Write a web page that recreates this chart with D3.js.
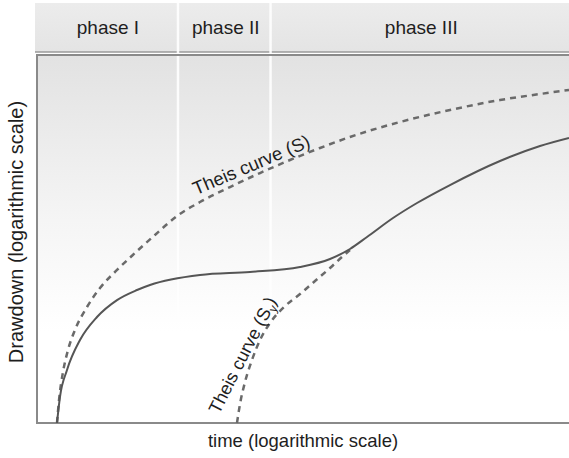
<!DOCTYPE html>
<html>
<head>
<meta charset="utf-8">
<script src="https://cdn.jsdelivr.net/npm/d3@7"></script>
<style>
  html, body { margin: 0; padding: 0; background: #fff; }
  svg { display: block; font-family: "Liberation Sans", Arial, sans-serif; }
</style>
</head>
<body>
<svg id="chart" width="569" height="458"></svg>
<script>
// Phases shown in the header band (boundaries in log-time units 0..100)
const phaseNames = ["phase I", "phase II", "phase III"];
const phaseBounds = [-0.4, 26.5, 43.9, 100];

// Observed drawdown curve (log time, log drawdown), units 0..100
const obsTime = [3.76, 4.32, 5.64, 8.08, 11.28, 15.04, 18.8, 21.24, 30.64, 40.04, 49.44, 55.08, 58.83, 62.03, 66.92, 71.43, 77.63, 87.03, 94.55, 100];
const obsDraw = [0, 7.07, 14.4, 22.55, 28.8, 33.4, 36.14, 37.5, 40.2, 41.03, 42.4, 44.57, 47.28, 50.54, 55.7, 59.78, 64.67, 71.2, 75.27, 77.45];

// Theis type curve for storativity S
const theisSTime = [3.76, 4.14, 4.89, 5.83, 7.14, 9.4, 11.84, 15.04, 18.42, 22.18, 26.32, 30.64, 36.28, 41.92, 47.56, 53.2, 58.83, 68.23, 77.63, 87.03, 94.55, 100];
const theisSDraw = [0, 6.25, 13.86, 19.84, 25.27, 31.52, 36.68, 41.58, 46.2, 51.09, 56.25, 60.05, 64.13, 67.93, 71.47, 74.73, 77.72, 81.79, 85.05, 87.77, 89.4, 90.49];

// Theis type curve for specific yield Sy
const theisSyTime = [37.59, 38.16, 39.1, 40.41, 41.92, 43.8, 46.43, 49.44, 52.26, 55.08, 57.33, 58.83];
const theisSyDraw = [0, 5.16, 11.14, 17.12, 22.55, 27.17, 31.52, 35.05, 38.59, 42.12, 45.11, 47.01];

const svg = d3.select("#chart");
const plot = { left: 37, right: 569, top: 55, bottom: 423 };

const x = d3.scaleLinear().domain([0, 100]).range([plot.left, plot.right]);
const y = d3.scaleLinear().domain([0, 100]).range([plot.bottom, plot.top]);

const defs = svg.append("defs");
const bg = defs.append("linearGradient").attr("id", "plotBg")
  .attr("x1", 0).attr("y1", 0).attr("x2", 0).attr("y2", 1);
bg.append("stop").attr("offset", "0%").attr("stop-color", "#e2e2e2");
bg.append("stop").attr("offset", "45%").attr("stop-color", "#f5f5f5");
bg.append("stop").attr("offset", "75%").attr("stop-color", "#ffffff");

const hdr = defs.append("linearGradient").attr("id", "hdrBg")
  .attr("x1", 0).attr("y1", 0).attr("x2", 0).attr("y2", 1);
hdr.append("stop").attr("offset", "0%").attr("stop-color", "#ececec");
hdr.append("stop").attr("offset", "100%").attr("stop-color", "#e4e4e4");

// Plot background
svg.append("rect")
  .attr("x", plot.left).attr("y", plot.top)
  .attr("width", plot.right - plot.left).attr("height", plot.bottom - plot.top)
  .attr("fill", "url(#plotBg)");

// Header band
const hdrTop = 3, hdrBottom = 52;
svg.append("rect")
  .attr("x", 35).attr("y", hdrTop)
  .attr("width", plot.right - 35).attr("height", hdrBottom - hdrTop)
  .attr("fill", "url(#hdrBg)");
svg.append("line")
  .attr("x1", 35).attr("x2", plot.right)
  .attr("y1", hdrBottom).attr("y2", hdrBottom)
  .attr("stroke", "#9a9a9a").attr("stroke-width", 1.5);

phaseNames.forEach((name, i) => {
  const cx = (x(phaseBounds[i]) + x(phaseBounds[i + 1])) / 2;
  svg.append("text")
    .attr("x", cx + 1.5).attr("y", 34)
    .attr("text-anchor", "middle")
    .attr("font-size", 19)
    .attr("fill", "#1e1e1e")
    .text(name);
});

// Phase dividers running through header and plot
phaseBounds.slice(1, -1).forEach(b => {
  svg.append("line")
    .attr("x1", x(b)).attr("x2", x(b))
    .attr("y1", hdrTop).attr("y2", plot.bottom)
    .attr("stroke", "#ffffff").attr("stroke-width", 2.5).attr("opacity", 0.9);
});

// Plot frame: left, top and bottom edges
svg.append("path")
  .attr("d", `M${plot.right},${plot.top}H${plot.left}V${plot.bottom}H${plot.right}`)
  .attr("fill", "none").attr("stroke", "#8a8a8a").attr("stroke-width", 2);

const line = d3.line()
  .x(d => x(d[0])).y(d => y(d[1]))
  .curve(d3.curveMonotoneX);

const zip = (a, b) => a.map((v, i) => [v, b[i]]);

// Theis curves (dashed)
svg.append("path")
  .attr("d", line(zip(theisSTime, theisSDraw)))
  .attr("fill", "none").attr("stroke", "#6a6a6a")
  .attr("stroke-width", 2.5).attr("stroke-dasharray", "6,5");

svg.append("path")
  .attr("d", line(zip(theisSyTime, theisSyDraw)))
  .attr("fill", "none").attr("stroke", "#6a6a6a")
  .attr("stroke-width", 2.5).attr("stroke-dasharray", "6,5");

// Observed drawdown (solid)
svg.append("path")
  .attr("d", line(zip(obsTime, obsDraw)))
  .attr("fill", "none").attr("stroke", "#555555")
  .attr("stroke-width", 2);

// Curve labels
svg.append("text")
  .attr("transform", `translate(${x(29.9)},${y(61.9)}) rotate(-23)`)
  .attr("font-size", 18.5).attr("fill", "#1e1e1e")
  .text("Theis curve (S)");

const syLabel = svg.append("text")
  .attr("transform", `translate(${x(34.2)},${y(2.2)}) rotate(-63)`)
  .attr("font-size", 18).attr("fill", "#1e1e1e");
syLabel.append("tspan").text("Theis curve (S");
syLabel.append("tspan").attr("font-size", 12).attr("dy", 4).text("y");
syLabel.append("tspan").attr("dy", -4).text(")");

// Axis titles
svg.append("text")
  .attr("x", 303).attr("y", 447)
  .attr("text-anchor", "middle").attr("font-size", 18.5).attr("fill", "#1e1e1e")
  .text("time (logarithmic scale)");

svg.append("text")
  .attr("transform", `translate(23,232) rotate(-90)`)
  .attr("text-anchor", "middle").attr("font-size", 20).attr("fill", "#1e1e1e")
  .text("Drawdown (logarithmic scale)");
</script>
</body>
</html>
